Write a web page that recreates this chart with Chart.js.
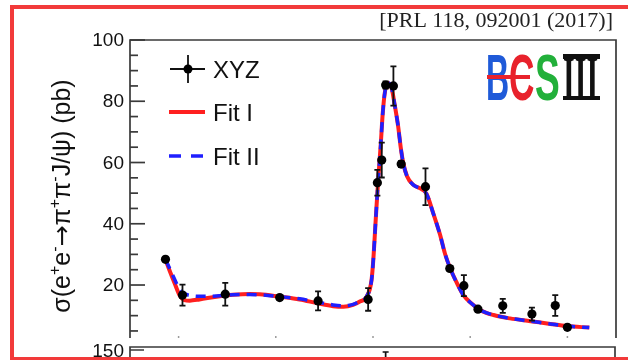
<!DOCTYPE html>
<html>
<head>
<meta charset="utf-8">
<script src="https://cdn.jsdelivr.net/npm/chart.js@4.4.1/dist/chart.umd.min.js"></script>
<style>
  html, body { margin: 0; padding: 0; background: #fff; overflow: hidden; }
  #wrap { position: relative; width: 628px; height: 360px; overflow: hidden; }
  #c { position: absolute; left: 0; top: 0; }
  #frame { position: absolute; left: 10px; top: 5px; width: 660px; height: 356px;
           box-sizing: border-box; border: 4px solid #f23a3a; pointer-events: none; }
</style>
</head>
<body>
<div id="wrap">
  <canvas id="c" width="628" height="360"></canvas>
  <div id="frame"></div>
</div>
<script>
// Measured cross section of e+e- -> pi+ pi- J/psi (pb) vs centre-of-mass energy (GeV)
const energies = [3.773, 3.808, 3.896, 4.008, 4.087, 4.190, 4.209, 4.218, 4.226, 4.242,
                  4.258, 4.308, 4.358, 4.387, 4.416, 4.467, 4.527, 4.575, 4.600];
const xsec     = [28.4, 16.7, 17.0, 15.9, 14.8, 15.3, 53.4, 60.8, 85.3, 85.0,
                  59.5, 52.1, 25.4, 19.8, 12.1, 13.2, 10.5, 13.3, 6.2];
const xsecErr  = [0.6, 3.4, 3.7, 0.6, 3.1, 3.7, 4.2, 5.7, 1.2, 6.4,
                  1.0, 6.0, 0.8, 3.4, 0.7, 2.3, 2.1, 3.4, 0.6];

// Fit I curve
const fit1E = [3.773, 3.781, 3.792, 3.802, 3.812, 3.823, 3.843, 3.878, 3.911, 3.946,
               3.967, 4.008, 4.049, 4.087, 4.118, 4.139, 4.159, 4.173, 4.187, 4.197,
               4.201, 4.204, 4.207, 4.211, 4.216, 4.220, 4.225, 4.231, 4.238, 4.245,
               4.252, 4.257, 4.262, 4.270, 4.283, 4.300, 4.310, 4.324, 4.338, 4.348,
               4.359, 4.373, 4.386, 4.404, 4.421, 4.448, 4.482, 4.524, 4.565, 4.599, 4.645];
const fit1Y = [28.3, 24.9, 20.5, 16.7, 15.1, 14.9, 15.3, 16.2, 16.8, 17.1,
               17.0, 16.2, 15.3, 14.0, 13.1, 12.9, 13.5, 14.6, 16.2, 21.6,
               29.0, 37.0, 45.0, 55.0, 66.0, 76.0, 83.5, 86.0, 84.5, 78.5,
               71.5, 65.0, 60.0, 55.5, 52.7, 51.3, 49.8, 43.4, 36.4, 30.3,
               25.4, 20.5, 16.7, 13.8, 11.8, 10.2, 9.1, 8.2, 7.3, 6.6, 6.1];

// Fit II curve
const fit2E = fit1E;
const fit2Y = [28.3, 25.6, 21.8, 18.6, 17.2, 16.6, 16.3, 16.4, 16.8, 16.9,
               16.8, 16.2, 15.5, 14.4, 13.5, 13.2, 13.7, 14.7, 16.3, 21.6,
               29.0, 37.0, 45.0, 55.0, 66.0, 76.0, 83.5, 86.0, 84.5, 78.5,
               71.5, 65.0, 60.0, 55.5, 52.7, 51.3, 49.8, 43.4, 36.4, 30.3,
               25.4, 20.5, 16.7, 13.8, 11.8, 10.2, 9.1, 8.2, 7.3, 6.6, 6.1];

// Axis ticks
const yMajorTicks = [20, 40, 60, 80, 100];
const yMinorStep = 5;
const xTicks = [3.8, 4.0, 4.2, 4.4, 4.6];
const lowerPanelTopLabel = '150';
const lowerPanelPointE = 4.226;

const RED = '#ff1f1f';
const BLUE = '#1f1fff';
const AXIS = '#3a3a3a';
const INK = '#111';
const SANS = '"Liberation Sans", Arial, sans-serif';

function toXY(xs, ys) { return xs.map((v, i) => ({ x: v, y: ys[i] })); }

function drawLogo(ctx) {
  const base = 100;
  ctx.save();
  ctx.textBaseline = 'alphabetic';
  ctx.textAlign = 'left';
  const glyph = (t, x, sx, color, font) => {
    ctx.save();
    ctx.font = font;
    ctx.fillStyle = color;
    ctx.translate(x, base);
    ctx.scale(sx, 1);
    ctx.fillText(t, 0, 0);
    ctx.restore();
  };
  const f = 'bold 64px ' + SANS;
  glyph('B', 486, 0.50, '#1f5ad8', f);
  glyph('C', 509, 0.55, '#e8222c', f);
  ctx.strokeStyle = '#e8222c';
  ctx.lineWidth = 4;
  ctx.beginPath(); ctx.moveTo(487, 77); ctx.lineTo(530, 77); ctx.stroke();
  glyph('S', 535, 0.58, '#22b03a', f);
  glyph('III', 563, 0.47, '#111', 'bold 64px "Liberation Serif", serif');
  ctx.fillStyle = '#111';
  ctx.fillRect(563, 54, 37, 5);
  ctx.fillRect(563, 96, 37, 4);
  ctx.restore();
}

const decor = {
  id: 'decor',
  beforeDatasetDraw(chart, args) {
    if (args.index !== 0) return;
    const { ctx, scales: { x, y } } = chart;
    ctx.save();
    ctx.strokeStyle = '#111';
    ctx.lineWidth = 1.8;
    energies.forEach((e, i) => {
      const px = x.getPixelForValue(e);
      const top = y.getPixelForValue(xsec[i] + xsecErr[i]);
      const bot = y.getPixelForValue(xsec[i] - xsecErr[i]);
      ctx.beginPath();
      ctx.moveTo(px, top); ctx.lineTo(px, bot);
      ctx.moveTo(px - 3, top); ctx.lineTo(px + 3, top);
      ctx.moveTo(px - 3, bot); ctx.lineTo(px + 3, bot);
      ctx.stroke();
    });
    ctx.restore();
  },
  afterDraw(chart) {
    const { ctx, chartArea: a, scales: { x, y } } = chart;
    ctx.save();

    // frame
    ctx.strokeStyle = AXIS;
    ctx.lineWidth = 1.7;
    ctx.beginPath();
    ctx.moveTo(a.left, a.bottom); ctx.lineTo(a.left, a.top);
    ctx.lineTo(a.right, a.top); ctx.lineTo(a.right, a.bottom);
    ctx.stroke();

    // inward y ticks
    for (let v = yMinorStep; v <= 100; v += yMinorStep) {
      const py = y.getPixelForValue(v);
      const len = (v % 20 === 0) ? 15 : 8;
      ctx.beginPath(); ctx.moveTo(a.left, py); ctx.lineTo(a.left + len, py); ctx.stroke();
    }

    // tiny x tick marks along the bottom
    ctx.strokeStyle = '#9a9a9a';
    ctx.lineWidth = 1.5;
    xTicks.forEach(t => {
      const px = x.getPixelForValue(t);
      ctx.beginPath(); ctx.moveTo(px, a.bottom - 2); ctx.lineTo(px, a.bottom); ctx.stroke();
    });

    // y tick labels
    ctx.fillStyle = INK;
    ctx.font = '19px ' + SANS;
    ctx.textAlign = 'right';
    ctx.textBaseline = 'middle';
    yMajorTicks.forEach(t => ctx.fillText(String(t), a.left - 6, y.getPixelForValue(t) + 1));

    // y title with superscripts, rotated
    const parts = [
      ['σ(e', 0], ['+', 1], ['e', 0], ['-', 1], ['→', 2], ['π', 0], ['+', 1],
      ['π', 0], ['-', 1], ['J/ψ) (pb)', 0]
    ];
    const fs = 25;
    const fN = fs + 'px ' + SANS, fS = Math.round(fs * 0.62) + 'px ' + SANS;
    const fA = fs + 'px "DejaVu Sans", sans-serif';
    const fontOf = s => s === 1 ? fS : (s === 2 ? fA : fN);
    let total = 0;
    parts.forEach(([t, s]) => { ctx.font = fontOf(s); total += ctx.measureText(t).width; });
    ctx.save();
    ctx.translate(61, 196);
    ctx.rotate(-Math.PI / 2);
    ctx.textAlign = 'left';
    ctx.textBaseline = 'alphabetic';
    let cx = -total / 2;
    parts.forEach(([t, s]) => {
      ctx.font = fontOf(s);
      ctx.fillText(t, cx, s === 1 ? -fs * 0.42 + 9 : 9);
      cx += ctx.measureText(t).width;
    });
    ctx.restore();

    // legend
    ctx.strokeStyle = '#111';
    ctx.lineWidth = 1.8;
    ctx.beginPath();
    ctx.moveTo(170, 69); ctx.lineTo(205, 69);
    ctx.moveTo(188, 55); ctx.lineTo(188, 83);
    ctx.stroke();
    ctx.fillStyle = '#000';
    ctx.beginPath(); ctx.arc(188, 69, 4.5, 0, Math.PI * 2); ctx.fill();
    ctx.strokeStyle = RED; ctx.lineWidth = 4;
    ctx.beginPath(); ctx.moveTo(169, 112); ctx.lineTo(205, 112); ctx.stroke();
    ctx.strokeStyle = BLUE; ctx.lineWidth = 3.5; ctx.setLineDash([12, 10]);
    ctx.beginPath(); ctx.moveTo(169, 156); ctx.lineTo(205, 156); ctx.stroke();
    ctx.setLineDash([]);
    ctx.fillStyle = INK;
    ctx.font = '24px ' + SANS;
    ctx.textAlign = 'left';
    ctx.textBaseline = 'middle';
    ctx.fillText('XYZ', 213, 71);
    ctx.fillText('Fit I', 213, 114);
    ctx.fillText('Fit II', 213, 158);

    // reference
    ctx.font = '22px "Liberation Serif", "Times New Roman", serif';
    ctx.textAlign = 'right';
    ctx.textBaseline = 'alphabetic';
    ctx.fillStyle = '#222';
    ctx.fillText('[PRL 118, 092001 (2017)]', 613, 27);

    drawLogo(ctx);

    // top edge of the panel below
    const lowTop = 347;
    ctx.strokeStyle = AXIS;
    ctx.lineWidth = 1.7;
    ctx.beginPath();
    ctx.moveTo(a.left, 362); ctx.lineTo(a.left, lowTop); ctx.lineTo(a.right - 1, lowTop); ctx.lineTo(a.right - 1, 362);
    ctx.moveTo(a.left, lowTop + 3); ctx.lineTo(a.left + 14, lowTop + 3);
    ctx.stroke();
    const pe = x.getPixelForValue(lowerPanelPointE);
    ctx.strokeStyle = '#111';
    ctx.beginPath();
    ctx.moveTo(pe - 3, 352); ctx.lineTo(pe + 3, 352);
    ctx.moveTo(pe, 352); ctx.lineTo(pe, 362);
    ctx.stroke();
    ctx.fillStyle = INK;
    ctx.font = '19px ' + SANS;
    ctx.textAlign = 'right';
    ctx.textBaseline = 'alphabetic';
    ctx.fillText(lowerPanelTopLabel, a.left - 6, 357);

    ctx.restore();
  }
};

new Chart(document.getElementById('c'), {
  type: 'scatter',
  data: {
    datasets: [
      { label: 'XYZ', data: toXY(energies, xsec), pointRadius: 4.6, pointHoverRadius: 4.6,
        backgroundColor: '#000', borderColor: '#000', borderWidth: 0 },
      { label: 'Fit II', type: 'line', data: toXY(fit2E, fit2Y), borderColor: BLUE,
        borderWidth: 3.5, borderDash: [10, 7], pointRadius: 0, fill: false,
        cubicInterpolationMode: 'monotone' },
      { label: 'Fit I', type: 'line', data: toXY(fit1E, fit1Y), borderColor: RED,
        borderWidth: 4, pointRadius: 0, fill: false, cubicInterpolationMode: 'monotone' }
    ]
  },
  options: {
    responsive: false,
    animation: false,
    devicePixelRatio: 1,
    layout: { padding: { left: 130, top: 40, right: 12, bottom: 22 } },
    plugins: { legend: { display: false }, tooltip: { enabled: false } },
    scales: {
      x: { type: 'linear', min: 3.7, max: 4.7, display: false },
      y: { type: 'linear', min: 2.7, max: 100, display: false }
    }
  },
  plugins: [decor]
});
</script>
</body>
</html>
